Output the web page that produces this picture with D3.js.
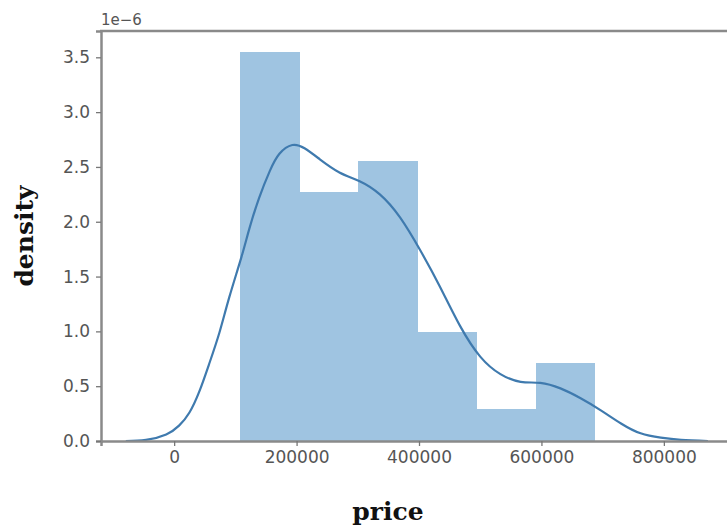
<!DOCTYPE html>
<html lang="en">
<head>
  <meta charset="utf-8">
  <title></title>
  <script src="https://d3js.org/d3.v7.min.js"></script>
</head>
<style>
body { margin: 0; background: white; }
.tick text {
  font-family: "DejaVu Sans", sans-serif;
  font-size: 17px;
  fill: #555;
}
.axis-label {
  font-family: "DejaVu Serif", serif;
  font-weight: bold;
  font-size: 25px;
  fill: #111;
}
.offset {
  font-family: "DejaVu Sans", sans-serif;
  font-size: 15px;
  fill: #555;
}
</style>
<body>
<div class="chart"></div>
<script>
// histogram bins (price) and densities (x 1e-6)
var binEdges = [108000, 204600, 301100, 397700, 494300, 590800, 687400];
var binDensity = [3.55, 2.27, 2.55, 0.99, 0.29, 0.71];

// kde curve
var kdePrice = [-79000, -46000, -13000, 8000, 25000, 41000, 57000, 74000, 90000, 110000,
  123000, 139000, 156000, 172000, 193000, 213000, 238000, 270000, 303000, 336000,
  369000, 402000, 434000, 467000, 500000, 533000, 566000, 598000, 631000, 664000,
  697000, 730000, 762000, 795000, 828000, 872000];
var kdeDensity = [0.0, 0.01, 0.06, 0.14, 0.26, 0.45, 0.70, 0.99, 1.31, 1.68,
  1.94, 2.22, 2.46, 2.62, 2.70, 2.67, 2.57, 2.45, 2.37, 2.25,
  2.04, 1.74, 1.41, 1.05, 0.77, 0.61, 0.54, 0.53, 0.48, 0.39,
  0.28, 0.16, 0.07, 0.03, 0.01, 0.0];

var xTicks = [0, 200000, 400000, 600000, 800000];
var yTicks = [0, 0.5, 1.0, 1.5, 2.0, 2.5, 3.0, 3.5];

var width = 727, height = 526;
var margin = {top: 31, left: 101, bottom: 85, right: -14};

var svg = d3.select(".chart").append("svg")
  .attr("width", width)
  .attr("height", height);

var x = d3.scaleLinear()
  .domain([-119500, 926000])
  .range([margin.left, width - margin.right]);
var y = d3.scaleLinear()
  .domain([0, 3.74])
  .range([height - margin.bottom, margin.top]);

var bins = binDensity.map(function(d, i) {
  return {x0: binEdges[i], x1: binEdges[i + 1], d: d};
});

svg.selectAll(".bar")
  .data(bins)
  .enter()
  .append("rect")
  .attr("class", "bar")
  .attr("fill", "#9fc4e1")
  .attr("shape-rendering", "crispEdges")
  .attr("x", function(b) { return x(b.x0); })
  .attr("width", function(b) { return x(b.x1) - x(b.x0) + 0.5; })
  .attr("y", function(b) { return y(b.d); })
  .attr("height", function(b) { return y(0) - y(b.d); });

var kde = kdePrice.map(function(p, i) { return [p, kdeDensity[i]]; });
var line = d3.line()
  .x(function(d) { return x(d[0]); })
  .y(function(d) { return y(d[1]); })
  .curve(d3.curveNatural);

svg.append("path")
  .datum(kde)
  .attr("fill", "none")
  .attr("stroke", "#3f7aae")
  .attr("stroke-width", 2.2)
  .attr("d", line);

var xAxis = svg.append("g")
  .attr("transform", "translate(0," + y(0) + ")")
  .call(d3.axisBottom(x).tickValues(xTicks).tickFormat(d3.format("d")).tickSize(5).tickPadding(5));
var yAxis = svg.append("g")
  .attr("transform", "translate(" + margin.left + ",0)")
  .call(d3.axisLeft(y).tickValues(yTicks).tickFormat(d3.format(".1f")).tickSize(5).tickPadding(6));

[xAxis, yAxis].forEach(function(a) {
  a.select(".domain").attr("stroke", "#8a8a8a").attr("stroke-width", 2.5);
  a.selectAll(".tick line").attr("stroke", "#777").attr("stroke-width", 1.3);
});

// top spine
svg.append("line")
  .attr("x1", margin.left - 1).attr("x2", width)
  .attr("y1", margin.top).attr("y2", margin.top)
  .attr("stroke", "#8a8a8a")
  .attr("stroke-width", 2.5);

svg.append("text")
  .attr("class", "offset")
  .attr("x", margin.left)
  .attr("y", 25)
  .text("1e\u22126");

svg.append("text")
  .attr("class", "axis-label")
  .attr("text-anchor", "middle")
  .attr("x", 388)
  .attr("y", 520)
  .text("price");

svg.append("text")
  .attr("class", "axis-label")
  .attr("text-anchor", "middle")
  .attr("transform", "translate(33," + ((margin.top + y(0)) / 2) + ") rotate(-90)")
  .text("density");
</script>
</body>
</html>
